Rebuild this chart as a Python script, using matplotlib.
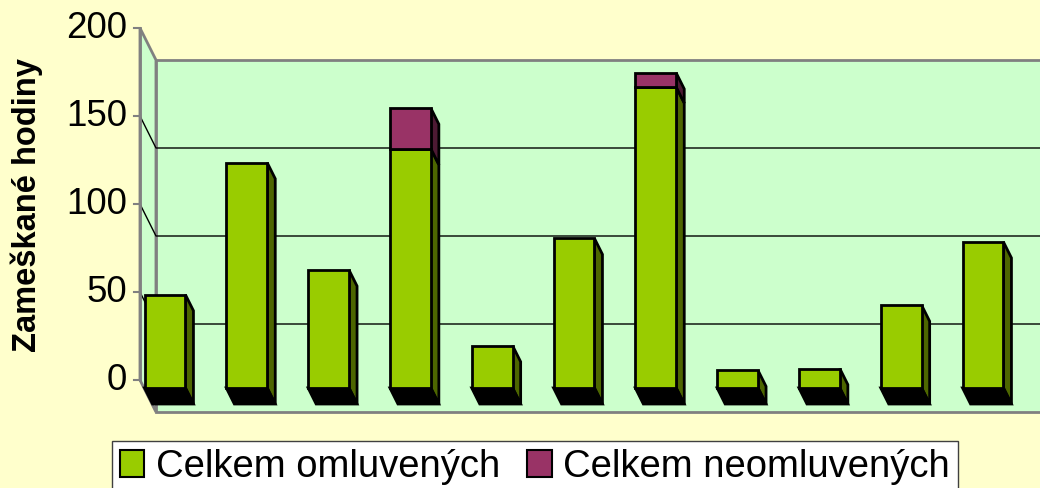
import matplotlib.pyplot as plt
from matplotlib.patches import Polygon, Patch

# data
omluvene = [53, 128, 67, 136, 24, 85, 171, 10, 11, 47, 83]
neomluvene = [0, 0, 0, 23, 0, 0, 8, 0, 0, 0, 0]
yticks = [0, 50, 100, 150, 200]
series = ['Celkem omluvených', 'Celkem neomluvených']

bg = '#FFFFCC'
wall = '#CCFFCC'
c_front = ['#99CC00', '#993366']
c_side = ['#4D6600', '#4D1A33']
edge_gray = '#808080'

plt.rcParams['font.family'] = ['Liberation Sans', 'DejaVu Sans']

W, H = 1040, 488
X0, CAT = 165, 81.8      # px of first bar centre, px per category
Y0, VAL = 388, 1.76      # px of zero on bar plane, px per unit
DX, DY = 16 / CAT, 32 / VAL   # full depth of the box in data units

fig = plt.figure(figsize=(W / 100, H / 100), dpi=100, facecolor=bg)
ax = fig.add_axes([0, 0, 1, 1])
ax.set_xlim(-X0 / CAT, (W - X0) / CAT)
ax.set_ylim(-(H - Y0) / VAL, Y0 / VAL)
ax.axis('off')


def proj(x, v, d):
    # d: 0 = front plane, 1 = back wall, bars face at 0.25
    return (x + (d - 0.25) * DX, v - (d - 0.25) * DY)


xl = -0.257
xr = 12
vmax = yticks[-1]

# side wall and back wall
side = [proj(xl, 0, 0), proj(xl, vmax, 0), proj(xl, vmax, 1), proj(xl, 0, 1)]
ax.add_patch(Polygon(side, closed=True, facecolor=wall, edgecolor=edge_gray, lw=2, zorder=1))
back = [proj(xl, 0, 1), proj(xl, vmax, 1), proj(xr, vmax, 1), proj(xr, 0, 1)]
ax.add_patch(Polygon(back, closed=True, facecolor=wall, edgecolor=edge_gray, lw=2, zorder=1))

# gridlines
for v in yticks[1:-1]:
    pts = [proj(xl, v, 0), proj(xl, v, 1), proj(xr, v, 1)]
    ax.plot([p[0] for p in pts], [p[1] for p in pts], color='black', lw=1, zorder=2)

# front axis with ticks
a0, a1 = proj(xl, 0, 0), proj(xl, vmax, 0)
ax.plot([a0[0], a1[0]], [a0[1], a1[1]], color=edge_gray, lw=2, zorder=2)
for v in yticks:
    px, py = proj(xl, v, 0)
    ax.plot([px - 6 / CAT, px], [py, py], color=edge_gray, lw=1.5, zorder=2)
    ax.text(px - 13 / CAT, py, str(v), ha='right', va='center', fontsize=26.5, color='black')

ax.text(-138 / CAT, 104, 'Zameškané hodiny', rotation=90, ha='center', va='center',
        fontsize=23.5, fontweight='bold')

# bars
w = 0.25
for i in range(len(omluvene)):
    bottom = 0
    for k, vals in enumerate([omluvene, neomluvene]):
        h = vals[i]
        if h <= 0:
            continue
        ax.bar(i, h, width=2 * w, bottom=bottom, color=c_front[k], edgecolor='black',
               lw=2, zorder=5)
        sp = [proj(i + w, bottom, 0.25), proj(i + w, bottom + h, 0.25),
              proj(i + w, bottom + h, 0.75), proj(i + w, bottom, 0.75)]
        ax.add_patch(Polygon(sp, closed=True, facecolor=c_side[k], edgecolor='black',
                             lw=2, zorder=4))
        bottom += h
    bp = [proj(i - w, 0, 0.25), proj(i + w, 0, 0.25), proj(i + w, 0, 0.75), proj(i - w, 0, 0.75)]
    ax.add_patch(Polygon(bp, closed=True, facecolor='black', edgecolor='black', lw=2, zorder=4))

handles = [Patch(facecolor=c_front[k], edgecolor='black', lw=1.5) for k in range(2)]
leg = fig.legend(handles, series, loc='upper left', bbox_to_anchor=(112 / W, 1 - 441 / H),
                 ncol=2, fontsize=27.5, frameon=True, fancybox=False, edgecolor='#404040',
                 framealpha=1, borderpad=0.2, handlelength=0.65, handleheight=0.7,
                 handletextpad=0.3, columnspacing=0.7, borderaxespad=0)
leg.get_frame().set_linewidth(1)

fig.savefig('out.png', dpi=100, facecolor=bg)
